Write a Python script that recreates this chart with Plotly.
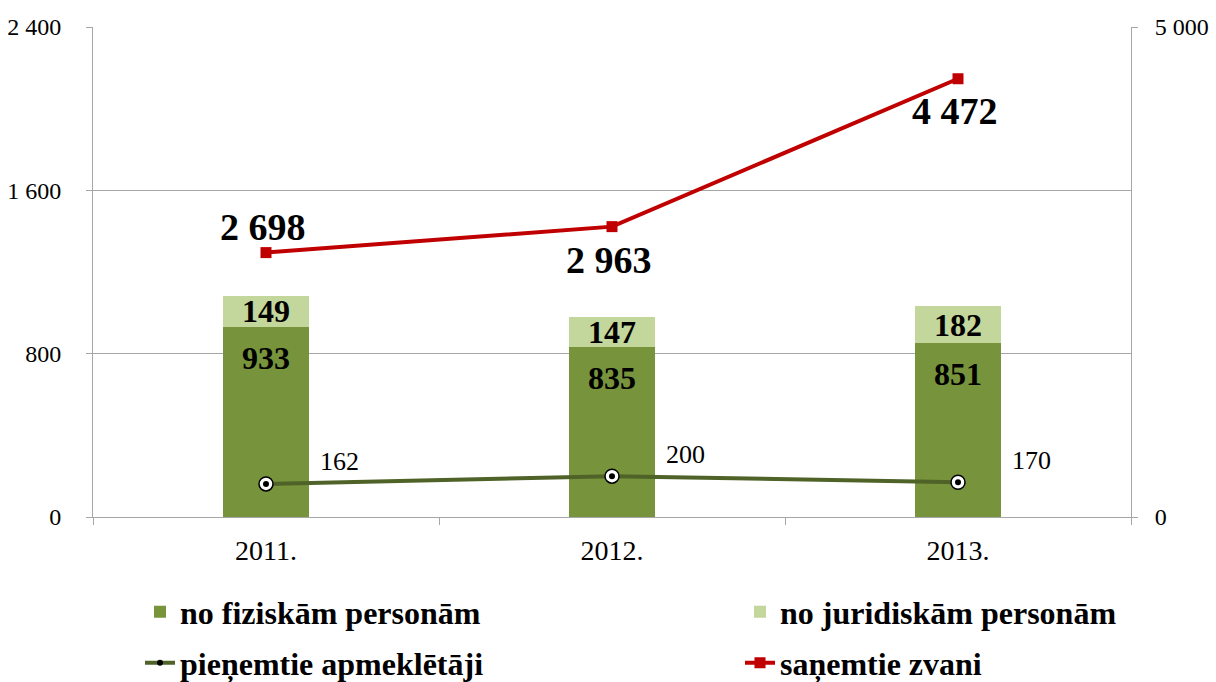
import plotly.graph_objects as go

years = ["2011.", "2012.", "2013."]
fiz = [933, 835, 851]
jur = [149, 147, 182]
apmekl = [162, 200, 170]
zvani = [2698, 2963, 4472]

names = ["no fiziskām personām", "no juridiskām personām", "pieņemtie apmeklētāji", "saņemtie zvani"]
left_ticks = [0, 800, 1600, 2400]
right_ticks = [0, 5000]

FONT = "Liberation Serif"
W, H = 1216, 682
L, R, T, B = 93, 85, 27, 165
pw = W - L - R
ph = H - T - B

def px_x(p):
    return (p - L) / pw

def px_y(p):
    return (H - B - p) / ph

def fmt(v):
    return f"{v:,}".replace(",", " ")

fig = go.Figure()
fig.add_trace(go.Bar(
    x=years, y=fiz, name=names[0], marker=dict(color="#77933C", line=dict(width=0)),
    width=0.25, legend="legend2",
))
fig.add_trace(go.Bar(
    x=years, y=jur, name=names[1], marker=dict(color="#C3D69B", line=dict(width=0)),
    width=0.25, text=[str(v) for v in jur], textposition="inside", insidetextanchor="middle",
    textfont=dict(family=FONT, size=32, color="black", weight="bold"), legend="legend3",
))
fig.add_trace(go.Scatter(
    x=years, y=apmekl, name=names[2], mode="lines+markers",
    line=dict(color="#4F6228", width=4),
    marker=dict(symbol="circle", size=6, color="black"),
    legend="legend4",
))
fig.add_trace(go.Scatter(
    x=years, y=apmekl, mode="markers", showlegend=False, hoverinfo="skip",
    marker=dict(symbol="circle", size=14, color="white", line=dict(color="black", width=1.5)),
))
fig.add_trace(go.Scatter(
    x=years, y=apmekl, mode="markers", showlegend=False, hoverinfo="skip",
    marker=dict(symbol="circle", size=6, color="black"),
))
fig.add_trace(go.Scatter(
    x=years, y=zvani, name=names[3], mode="lines+markers", yaxis="y2",
    line=dict(color="#C00000", width=4),
    marker=dict(symbol="square", size=11, color="#C00000"),
    legend="legend5", cliponaxis=False,
))

# category index positions for annotations (category strings look numeric)
for i, yv in enumerate(fiz):
    fig.add_annotation(x=i, y=yv, xref="x", yref="y", text="<b>" + str(yv) + "</b>", showarrow=False,
                       yshift=-31, font=dict(family=FONT, size=32, color="black"))

for i, yv in enumerate(apmekl):
    fig.add_annotation(x=i, y=yv, xref="x", yref="y", text=str(yv), showarrow=False,
                       xshift=73, yshift=22, font=dict(family=FONT, size=26, color="black"))

zv_shift = [26, -33, -32]
for i, (yv, s) in enumerate(zip(zvani, zv_shift)):
    fig.add_annotation(x=i, y=yv, xref="x", yref="y2", text="<b>" + fmt(yv) + "</b>",
                       showarrow=False, yshift=s, xshift=-3,
                       font=dict(family=FONT, size=38, color="black"))

axis_grey = "#A6A6A6"

def leg(xp, yp):
    return dict(orientation="h", yanchor="middle", xanchor="left", x=px_x(xp), y=px_y(yp),
                font=dict(family=FONT, size=32, color="black", weight="bold"),
                bgcolor="rgba(0,0,0,0)")

fig.update_layout(
    width=W, height=H,
    margin=dict(l=L, r=R, t=T, b=B, autoexpand=False),
    plot_bgcolor="white", paper_bgcolor="white",
    barmode="stack",
    separators=", ",
    font=dict(family=FONT, size=22, color="black"),
    uniformtext=dict(minsize=32, mode="show"),
    xaxis=dict(type="category", range=[-0.5, 2.5], showline=True, linecolor=axis_grey, linewidth=1,
               ticks="outside", tickson="boundaries", ticklen=7, tickcolor=axis_grey,
               ticklabelstandoff=8, tickfont=dict(family=FONT, size=28), showgrid=False),
    yaxis=dict(range=[0, 2400], tickvals=left_ticks, tickformat=",d", showgrid=True, gridcolor=axis_grey,
               gridwidth=1, showline=True, linecolor=axis_grey, ticks="outside", ticklen=6,
               tickcolor=axis_grey, ticklabelstandoff=20, tickfont=dict(family=FONT, size=24),
               zeroline=False),
    yaxis2=dict(range=[0, 5000], tickvals=right_ticks, tickformat=",d", overlaying="y", side="right",
                showgrid=False, showline=True, linecolor=axis_grey, ticks="outside", ticklen=6,
                tickcolor=axis_grey, ticklabelstandoff=12, tickfont=dict(family=FONT, size=24),
                zeroline=False),
    showlegend=True,
    legend2=leg(140, 612),
    legend3=leg(740, 612),
    legend4=leg(140, 663),
    legend5=leg(740, 663),
)

fig.write_html("out.html", config={"displayModeBar": False},
               post_script="document.body.style.margin='0';document.body.style.overflow='hidden';")
